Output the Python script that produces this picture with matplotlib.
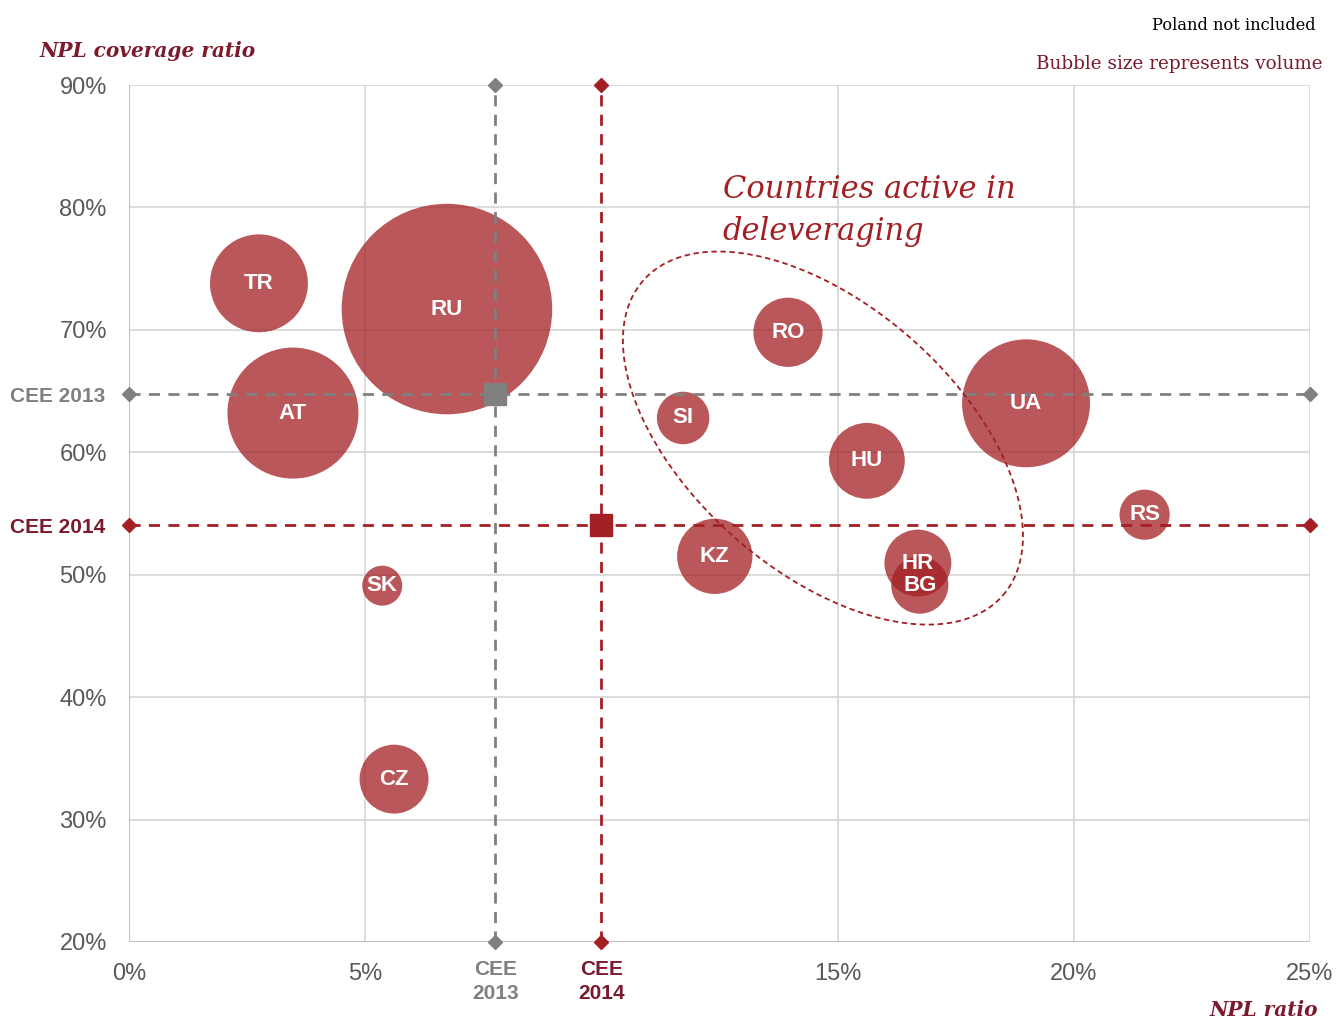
import numpy as np
import matplotlib
matplotlib.use("Agg")
import matplotlib.pyplot as plt

# NPL ratio (%), NPL coverage ratio (%), volume (arbitrary units, drives bubble area)
countries = ["TR", "RU", "AT", "SK", "CZ", "RO", "SI", "HU", "KZ", "HR", "BG", "UA", "RS"]
npl_ratio = [2.75, 6.73, 3.47, 5.36, 5.61, 13.95, 11.73, 15.62, 12.4, 16.7, 16.74, 18.99, 21.5]
coverage = [73.8, 71.7, 63.2, 49.1, 33.3, 69.8, 62.8, 59.3, 51.5, 50.95, 49.15, 64.0, 54.9]
volume = [24.0, 111.0, 43.0, 4.0, 11.9, 12.0, 6.9, 14.4, 14.2, 11.2, 8.2, 41.0, 6.3]

cee_labels = ["CEE 2013", "CEE 2014"]
cee_npl = [7.75, 10.0]
cee_cov = [64.75, 54.05]

x_ticks = [0, 5, 15, 20, 25]
y_ticks = [20, 30, 40, 50, 60, 70, 80, 90]

red = "#A31F24"
dark_red = "#7B1A2C"
grey = "#808080"
label_grey = "#595959"
bubble_col = "#A31F24"

fig = plt.figure(figsize=(13.36, 10.18), dpi=100)
ax = fig.add_axes([0.0966, 0.0747, 0.8839, 0.8418])
ax.set_xlim(0, 25)
ax.set_ylim(20, 90)

# grid
for v in [5, 15, 20, 25]:
    ax.axvline(v, color="#d9d9d9", lw=1.3, zorder=0)
for v in y_ticks:
    ax.axhline(v, color="#d9d9d9", lw=1.3, zorder=0)
for s in ax.spines.values():
    s.set_visible(False)
ax.axvline(0, color="#bfbfbf", lw=1.5, zorder=0)
ax.axhline(20, color="#bfbfbf", lw=1.5, zorder=0)

# bubbles
ax.scatter(npl_ratio, coverage, s=[v * 207 for v in volume], color=bubble_col,
           alpha=0.75, linewidths=0, zorder=3)
for c, x, y in zip(countries, npl_ratio, coverage):
    ax.text(x, y, c, color="white", fontsize=16, fontweight="bold",
            family="Liberation Sans", ha="center", va="center", zorder=5)

# CEE reference lines
for i, col in enumerate([grey, red]):
    x, y = cee_npl[i], cee_cov[i]
    ax.plot([0, 25], [y, y], color=col, ls=(0, (4, 3)), lw=2, zorder=4, clip_on=False)
    ax.plot([x, x], [20, 90], color=col, ls=(0, (4, 3)), lw=2, zorder=4, clip_on=False)
    ax.plot([0, 25, x, x], [y, y, 20, 90], ls="none", marker="D", ms=7, color=col,
            zorder=6, clip_on=False)
    ax.plot([x], [y], ls="none", marker="s", ms=16, color=col, zorder=6)

# ticks
ax.set_xticks(x_ticks + cee_npl)
ax.set_xticklabels([f"{v}%" for v in x_ticks] + ["CEE\n2013", "CEE\n2014"])
ax.set_yticks(y_ticks + cee_cov)
ax.set_yticklabels([f"{v}%" for v in y_ticks] + cee_labels)
ax.tick_params(axis="y", length=0, pad=16, labelsize=17, labelcolor=label_grey)
ax.tick_params(axis="x", length=0, pad=15, labelsize=17, labelcolor=label_grey)
for lab in ax.get_xticklabels() + ax.get_yticklabels():
    lab.set_family("Liberation Sans")
for lab, col in zip(ax.get_xticklabels()[-2:], [grey, dark_red]):
    lab.set_color(col)
    lab.set_fontweight("bold")
    lab.set_fontsize(15)
    lab.set_linespacing(1.3)
for lab, col in zip(ax.get_yticklabels()[-2:], [grey, dark_red]):
    lab.set_color(col)
    lab.set_fontweight("bold")
    lab.set_fontsize(15)
ax.yaxis.get_major_ticks()[-2].set_pad(17)
ax.yaxis.get_major_ticks()[-1].set_pad(17)
for t in ax.xaxis.get_major_ticks()[-2:]:
    t.set_pad(13)

# highlighting ellipse (drawn in pixel space around its centre)
cx, cy = ax.transData.transform((14.69, 61.16))
t = np.linspace(0, 2 * np.pi, 400)
a, b, th = 239, 133, np.deg2rad(-41.2)
px = cx + a * np.cos(t) * np.cos(th) - b * np.sin(t) * np.sin(th)
py = cy + a * np.cos(t) * np.sin(th) + b * np.sin(t) * np.cos(th)
pts = ax.transData.inverted().transform(np.column_stack([px, py]))
ax.plot(pts[:, 0], pts[:, 1], color=red, ls=(0, (3, 2)), lw=1.3, zorder=7)

ax.text(12.57, 80.77, "Countries active in", color=red, fontsize=22,
        style="italic", family="DejaVu Serif", va="baseline", ha="left")
ax.text(12.57, 77.34, "deleveraging", color=red, fontsize=22,
        style="italic", family="DejaVu Serif", va="baseline", ha="left")

# titles / notes
fig.text(40 / 1336, 1 - 51 / 1018, "NPL coverage ratio", color=dark_red, fontsize=14.5,
         style="italic", fontweight="bold", family="DejaVu Serif", va="center", ha="left")
fig.text(1318 / 1336, 1 - 1010 / 1018, "NPL ratio", color=dark_red, fontsize=14.5,
         style="italic", fontweight="bold", family="DejaVu Serif", va="center", ha="right")
fig.text(1316 / 1336, 1 - 25 / 1018, "Poland not included", color="black", fontsize=11.7,
         family="DejaVu Serif", va="center", ha="right")
fig.text(1323 / 1336, 1 - 64 / 1018, "Bubble size represents volume", color=dark_red,
         fontsize=13.2, family="DejaVu Serif", va="center", ha="right")

fig.savefig("out.png", dpi=100)
